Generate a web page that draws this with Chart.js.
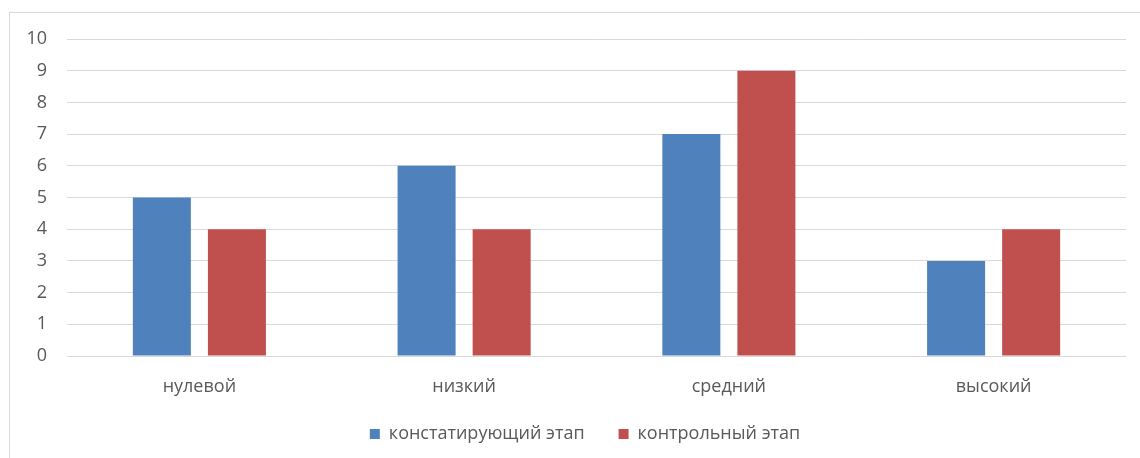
<!DOCTYPE html>
<html>
<head>
<meta charset="utf-8">
<script src="https://cdn.jsdelivr.net/npm/chart.js@4"></script>
<style>
    body { margin: 0; background: #fff; }
    #frame {
        position: absolute; left: 9px; top: 12px; width: 1200px; height: 500px;
        border-left: 1px solid #d9d9d9; border-top: 1px solid #d9d9d9;
    }
    #wrap { position: absolute; left: 0; top: 0; width: 1140px; height: 458px; }
</style>
</head>
<body>
<div id="frame"></div>
<div id="wrap"><canvas id="myChart"></canvas></div>
<script>
var categories = ['нулевой', 'низкий', 'средний', 'высокий'];
var stage1 = [5, 6, 7, 3];   // констатирующий этап
var stage2 = [4, 4, 9, 4];   // контрольный этап
var yTicks = [0, 1, 2, 3, 4, 5, 6, 7, 8, 9, 10];

var textColor = '#595959';
var font = "'Open Sans', 'DejaVu Sans', sans-serif";

// the legend in the original sits a bit right of centre and slightly higher
var moveLegend = {
    id: 'moveLegend',
    afterLayout: function (chart) {
        var lg = chart.legend;
        lg.left += 22; lg.right += 22;
        lg.top -= 5; lg.bottom -= 5;
    }
};

var ctx = document.getElementById('myChart').getContext('2d');
var chart = new Chart(ctx, {
    type: 'bar',
    data: {
        labels: categories,
        datasets: [{
            label: 'констатирующий этап',
            data: stage1,
            backgroundColor: '#4f81bd'
        }, {
            label: 'контрольный этап',
            data: stage2,
            backgroundColor: '#c0504d'
        }]
    },
    plugins: [moveLegend],
    options: {
        responsive: true,
        maintainAspectRatio: false,
        animation: false,
        layout: { padding: { top: 39, right: 14, left: 0, bottom: 0 } },
        datasets: { bar: { categoryPercentage: 0.567, barPercentage: 0.773 } },
        plugins: {
            tooltip: { enabled: false },
            legend: {
                position: 'bottom',
                labels: {
                    boxWidth: 10, boxHeight: 10, padding: 34,
                    color: textColor,
                    font: { family: font, size: 18 }
                }
            }
        },
        scales: {
            x: {
                grid: { display: false, drawTicks: false },
                border: { display: false },
                ticks: { color: textColor, padding: 20, font: { family: font, size: 18 } },
                afterFit: function (scale) { scale.height = 40; }
            },
            y: {
                min: 0, max: 10,
                afterBuildTicks: function (scale) {
                    scale.ticks = yTicks.map(function (v) { return { value: v }; });
                },
                grid: { color: '#d9d9d9', drawTicks: false },
                border: { display: false },
                ticks: { color: textColor, padding: 20, font: { family: font, size: 18 } },
                afterFit: function (scale) { scale.width = 67; }
            }
        }
    }
});
</script>
</body>
</html>
